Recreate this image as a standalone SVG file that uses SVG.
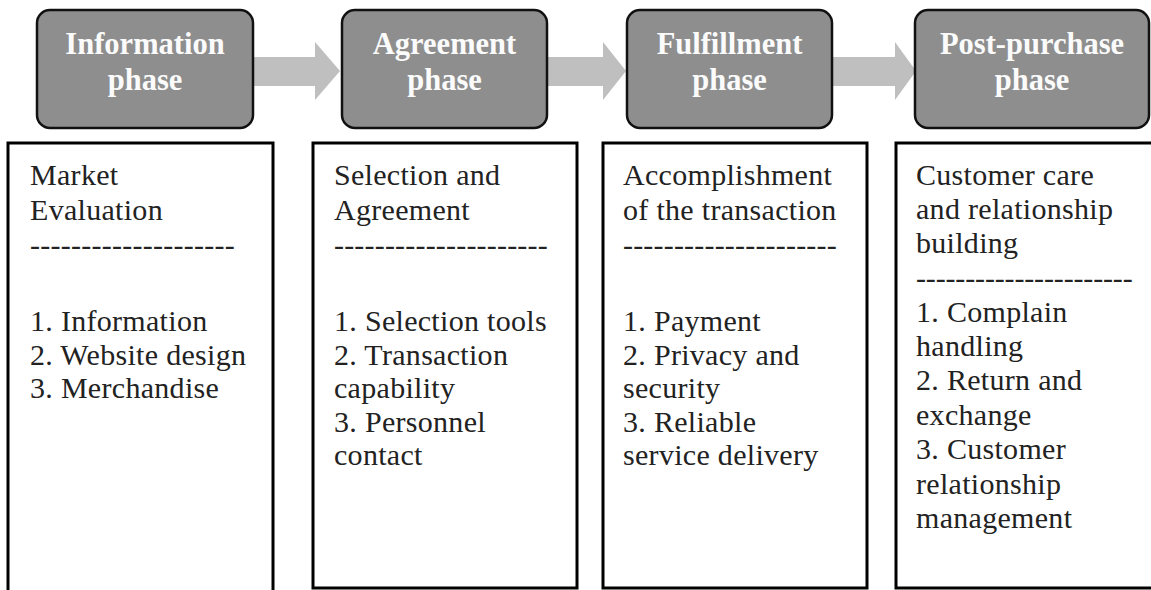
<svg xmlns="http://www.w3.org/2000/svg" width="1151" height="590" viewBox="0 0 1151 590">
<defs>
<style>
.phase{fill:#8e8e8e;stroke:#111;stroke-width:2.5}
.ptxt{font-family:"Liberation Serif",serif;font-weight:bold;font-size:30.5px;fill:#fbfbfb;text-anchor:middle}
.box{fill:#fff;stroke:#000;stroke-width:3}
.btxt{font-family:"Liberation Serif",serif;font-size:30px;letter-spacing:0.3px;fill:#222}
.arr{fill:#bfbfbf}
</style>
</defs>
<rect width="1151" height="590" fill="#fff"/>
<g id="connectors">
<polygon class="arr" points="253,57 315,57 315,42 340,71 315,100 315,86 253,86"/>
<polygon class="arr" points="547,57 603,57 603,42 626,71 603,100 603,86 547,86"/>
<polygon class="arr" points="832,57 895,57 895,42 916,71 895,100 895,86 832,86"/>
</g>
<g id="phase-information">
<rect class="phase" x="37" y="10" width="216" height="118" rx="13"/>
<text class="ptxt" x="145" y="54">Information</text>
<text class="ptxt" x="145" y="90">phase</text>
</g>
<g id="phase-agreement">
<rect class="phase" x="342" y="10" width="205" height="118" rx="13"/>
<text class="ptxt" x="444.5" y="54">Agreement</text>
<text class="ptxt" x="444.5" y="90">phase</text>
</g>
<g id="phase-fulfillment">
<rect class="phase" x="627" y="10" width="205" height="118" rx="13"/>
<text class="ptxt" x="729.5" y="54">Fulfillment</text>
<text class="ptxt" x="729.5" y="90">phase</text>
</g>
<g id="phase-postpurchase">
<rect class="phase" x="915" y="10" width="234" height="118" rx="13"/>
<text class="ptxt" x="1032" y="54">Post-purchase</text>
<text class="ptxt" x="1032" y="90">phase</text>
</g>
<g id="box-information">
<rect class="box" x="8" y="143" width="265" height="460"/>
<text class="btxt" x="30" y="185">Market</text>
<text class="btxt" x="30" y="219.5">Evaluation</text>
<text class="btxt" x="30" y="255" textLength="205" lengthAdjust="spacing">--------------------</text>
<text class="btxt" x="30" y="331">1. Information</text>
<text class="btxt" x="30" y="364.5">2. Website design</text>
<text class="btxt" x="30" y="398">3. Merchandise</text>
</g>
<g id="box-agreement">
<rect class="box" x="313" y="143" width="264" height="445"/>
<text class="btxt" x="334" y="185">Selection and</text>
<text class="btxt" x="334" y="219.5">Agreement</text>
<text class="btxt" x="334" y="255" textLength="214" lengthAdjust="spacing">---------------------</text>
<text class="btxt" x="334" y="331">1. Selection tools</text>
<text class="btxt" x="334" y="364.5">2. Transaction</text>
<text class="btxt" x="334" y="398">capability</text>
<text class="btxt" x="334" y="431.5">3. Personnel</text>
<text class="btxt" x="334" y="465">contact</text>
</g>
<g id="box-fulfillment">
<rect class="box" x="603" y="143" width="264" height="445"/>
<text class="btxt" x="623" y="185">Accomplishment</text>
<text class="btxt" x="623" y="219.5">of the transaction</text>
<text class="btxt" x="623" y="255" textLength="214" lengthAdjust="spacing">---------------------</text>
<text class="btxt" x="623" y="331">1. Payment</text>
<text class="btxt" x="623" y="364.5">2. Privacy and</text>
<text class="btxt" x="623" y="398">security</text>
<text class="btxt" x="623" y="431.5">3. Reliable</text>
<text class="btxt" x="623" y="465">service delivery</text>
</g>
<g id="box-postpurchase">
<rect class="box" x="896" y="143" width="265" height="445"/>
<text class="btxt" x="916" y="185">Customer care</text>
<text class="btxt" x="916" y="219">and relationship</text>
<text class="btxt" x="916" y="253">building</text>
<text class="btxt" x="916" y="287.5" textLength="217" lengthAdjust="spacing">----------------------</text>
<text class="btxt" x="916" y="322">1. Complain</text>
<text class="btxt" x="916" y="356">handling</text>
<text class="btxt" x="916" y="390">2. Return and</text>
<text class="btxt" x="916" y="424.5">exchange</text>
<text class="btxt" x="916" y="459">3. Customer</text>
<text class="btxt" x="916" y="493.5">relationship</text>
<text class="btxt" x="916" y="528">management</text>
</g>
</svg>
